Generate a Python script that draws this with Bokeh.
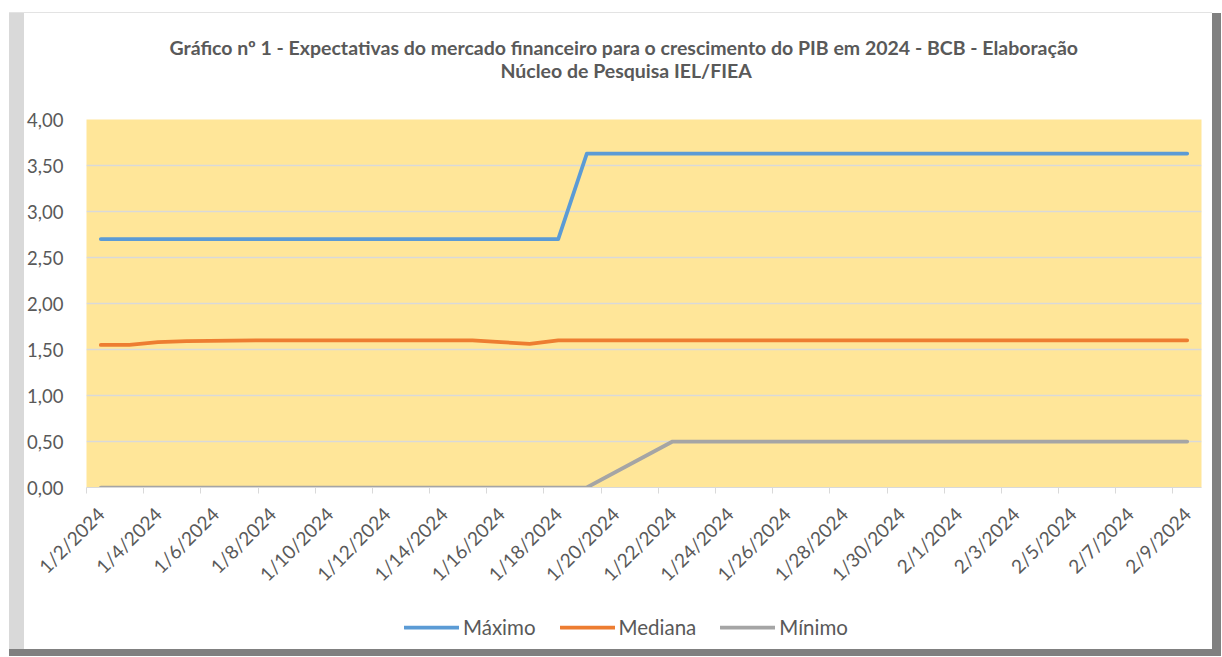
import pandas as pd
from bokeh.plotting import figure
from bokeh.layouts import column, row
from bokeh.models import (ColumnDataSource, FixedTicker, Legend, LegendItem, Title, Range1d, Spacer)
from bokeh.embed import file_html
from bokeh.resources import INLINE

# ---- data ----
dates = ["2024-01-02", "2024-01-03", "2024-01-04", "2024-01-05",
         "2024-01-08", "2024-01-09", "2024-01-10", "2024-01-11", "2024-01-12",
         "2024-01-15", "2024-01-16", "2024-01-17", "2024-01-18", "2024-01-19",
         "2024-01-22", "2024-01-23", "2024-01-24", "2024-01-25", "2024-01-26",
         "2024-01-29", "2024-01-30", "2024-01-31", "2024-02-01", "2024-02-02",
         "2024-02-05", "2024-02-06", "2024-02-07", "2024-02-08", "2024-02-09"]
maximo = [2.70, 2.70, 2.70, 2.70,
          2.70, 2.70, 2.70, 2.70, 2.70,
          2.70, 2.70, 2.70, 2.70, 3.63,
          3.63, 3.63, 3.63, 3.63, 3.63,
          3.63, 3.63, 3.63, 3.63, 3.63,
          3.63, 3.63, 3.63, 3.63, 3.63]
mediana = [1.55, 1.55, 1.58, 1.59,
           1.60, 1.60, 1.60, 1.60, 1.60,
           1.60, 1.58, 1.56, 1.60, 1.60,
           1.60, 1.60, 1.60, 1.60, 1.60,
           1.60, 1.60, 1.60, 1.60, 1.60,
           1.60, 1.60, 1.60, 1.60, 1.60]
minimo = [0.00, 0.00, 0.00, 0.00,
          0.00, 0.00, 0.00, 0.00, 0.00,
          0.00, 0.00, 0.00, 0.00, 0.00,
          0.50, 0.50, 0.50, 0.50, 0.50,
          0.50, 0.50, 0.50, 0.50, 0.50,
          0.50, 0.50, 0.50, 0.50, 0.50]
y_ticks = [0.0, 0.5, 1.0, 1.5, 2.0, 2.5, 3.0, 3.5, 4.0]
series_names = ["Máximo", "Mediana", "Mínimo"]
title_line1 = "Gráfico nº 1 - Expectativas do mercado financeiro para  o crescimento do PIB em 2024 - BCB - Elaboração"
title_line2 = "Núcleo de Pesquisa IEL/FIEA"

# ---- derived ----
start = pd.Timestamp("2024-01-02")
end = pd.Timestamp("2024-02-09")
day_idx = [(pd.Timestamp(d) - start).days for d in dates]
n_days = (end - start).days
label_days = list(range(0, n_days + 1, 2))
label_text = {}
for k in label_days:
    d = start + pd.Timedelta(days=k)
    label_text[k] = f"{d.month}/{d.day}/{d.year}"
minor = [k - 0.5 for k in label_days]

src = ColumnDataSource(dict(x=day_idx, maximo=maximo, mediana=mediana, minimo=minimo))

FONT = "Lato"
TXT = "#595959"
colors = ["#5B9BD5", "#ED7D31", "#A5A5A5"]
keys = ["maximo", "mediana", "minimo"]
LW = 3.75

W = 1188
H_MAIN = 583
H_LEG = 53
H_PANEL = H_MAIN + H_LEG

p = figure(width=W, height=H_MAIN, output_backend="svg", toolbar_location=None,
           x_range=Range1d(-0.5, n_days + 0.5), y_range=Range1d(0, 4),
           min_border_left=61, min_border_right=11, min_border_top=106, min_border_bottom=101)

p.background_fill_color = "#FFE699"
p.border_fill_color = "white"
p.outline_line_color = None

# titles: p.title is the outermost; added titles stack from the frame outwards
p.title.text = title_line1
p.title.align = "left"
p.title.offset = 83
p.title.text_font = FONT
p.title.text_font_size = "19.5px"
p.title.text_font_style = "bold"
p.title.text_color = TXT
p.title.standoff = -4
gap = Title(text=" ", align="left", text_font=FONT, text_font_size="19.5px", standoff=13)
p.add_layout(gap, "above")
t2 = Title(text=title_line2, align="left", offset=414, text_font=FONT,
           text_font_size="19.5px", text_font_style="bold", text_color=TXT, standoff=0)
p.add_layout(t2, "above")

# lines
for key, c in zip(keys, colors):
    p.line("x", key, source=src, line_color=c, line_width=LW,
           line_join="round", line_cap="round")

# axes
p.xaxis.ticker = FixedTicker(ticks=label_days, minor_ticks=minor)
p.xaxis.major_label_overrides = label_text
p.xaxis.major_label_orientation = 0.785398
p.xaxis.major_tick_line_color = None
p.xaxis.minor_tick_line_color = "#D9D9D9"
p.xaxis.minor_tick_in = 0
p.xaxis.minor_tick_out = 6
p.xaxis.axis_line_color = "#D9D9D9"
p.xaxis.major_label_text_font = FONT
p.xaxis.major_label_text_font_size = "19px"
p.xaxis.major_label_text_color = TXT
p.xaxis.major_label_standoff = 17

p.yaxis.ticker = FixedTicker(ticks=y_ticks)
p.yaxis.major_label_overrides = {v: f"{v:.2f}".replace(".", ",") for v in y_ticks}
p.yaxis.axis_line_color = None
p.yaxis.major_tick_line_color = None
p.yaxis.minor_tick_line_color = None
p.yaxis.major_label_standoff = 17
p.yaxis.major_label_text_font = FONT
p.yaxis.major_label_text_font_size = "18.5px"
p.yaxis.major_label_text_color = TXT

p.xgrid.grid_line_color = None
p.ygrid.ticker = FixedTicker(ticks=y_ticks)
p.ygrid.grid_line_color = "#D9D9D9"
p.ygrid.grid_line_width = 1.5

# legend strip (separate small figure under the chart; its lines are out of view)
pl = figure(width=W, height=H_LEG, output_backend="svg", toolbar_location=None,
            x_axis_type=None, y_axis_type=None,
            min_border_left=0, min_border_right=0, min_border_top=0, min_border_bottom=0,
            x_range=Range1d(-200, -199), y_range=Range1d(-200, -199))
pl.grid.grid_line_color = None
pl.outline_line_color = None
pl.background_fill_color = "white"
pl.border_fill_color = "white"
leg_renderers = [pl.line("x", key, source=src, line_color=c, line_width=LW, line_cap="round")
                 for key, c in zip(keys, colors)]
legend = Legend(items=[LegendItem(label=n, renderers=[r]) for n, r in zip(series_names, leg_renderers)],
                orientation="horizontal", location=(318, 10),
                glyph_width=55, glyph_height=16, label_standoff=4, spacing=24,
                label_text_font=FONT, label_text_font_size="20.5px", label_text_color=TXT,
                border_line_color=None, background_fill_alpha=0, margin=0, padding=4)
pl.add_layout(legend, "center")

# decorative frame (light shadow on the left, dark on the right and bottom)
panel = column(p, pl, spacing=0)
left_strip = Spacer(width=15, height=H_PANEL, styles={"background-color": "#D9D9D9"})
right_strip = Spacer(width=9, height=H_PANEL, styles={"background-color": "#808080"})
top_line = Spacer(width=15 + W, height=1, styles={"background-color": "#E3E3E3"})
bottom_strip = Spacer(width=15 + W + 9, height=7, styles={"background-color": "#808080"})
layout = column(Spacer(height=12),
                row(Spacer(width=9), top_line),
                row(Spacer(width=9), left_strip, panel, right_strip),
                row(Spacer(width=9), bottom_strip),
                spacing=0)
open("out.html", "w").write(file_html(layout, INLINE))
